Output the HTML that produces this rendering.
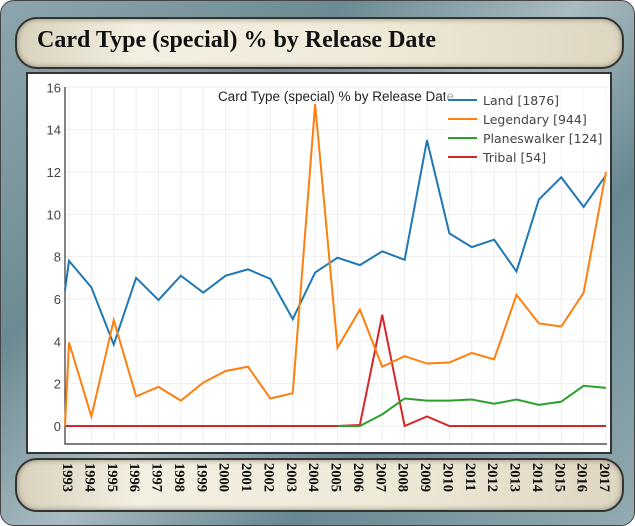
<!DOCTYPE html>
<html><head><meta charset="utf-8"><style>
body{margin:0;width:635px;height:526px;overflow:hidden;background:#fff}
#frame{position:absolute;left:0;top:0;width:633px;height:524px;border:1px solid #444;border-radius:14px;background:linear-gradient(135deg,#8ea6ad,#6c8a93 30%,#a8bbc0 50%,#688791 70%,#93abb1);}
.banner{position:absolute;left:15px;width:605px;height:48px;border:2px solid #333;border-radius:22px;background:linear-gradient(90deg,#d8d2bc,#f3efe2 20%,#efe9d8 60%,#ddd6c0);box-shadow:inset 0 0 6px #8a8470}
#title{top:17px}
#title span{position:absolute;left:20px;top:8px;font:bold 24px "Liberation Serif",serif;color:#111}
#bottom{top:458px;height:50px}
#panel{position:absolute;left:26px;top:72px;width:582px;height:378px;background:#fff;border:2px solid #333}
</style></head><body>
<div id="frame"></div>
<div id="title" class="banner"><span>Card Type (special) % by Release Date</span></div>
<div id="panel"></div>
<div id="bottom" class="banner"></div>
<svg id="chart" width="635" height="526" style="position:absolute;left:0;top:0"></svg>
<script>
const yTicks=[0,2,4,6,8,10,12,14,16];
const years=[1993,1994,1995,1996,1997,1998,1999,2000,2001,2002,2003,2004,2005,2006,2007,2008,2009,2010,2011,2012,2013,2014,2015,2016,2017];
const landX=[1992.82,1993,1994,1995,1996,1997,1998,1999,2000,2001,2002,2003,2004,2005,2006,2007,2008,2009,2010,2011,2012,2013,2014,2015,2016,2017];
const landY=[6.4,7.8,6.55,3.85,7.0,5.95,7.1,6.3,7.1,7.4,6.95,5.05,7.25,7.95,7.6,8.25,7.85,13.5,9.1,8.45,8.8,7.3,10.7,11.75,10.35,11.85];
const legX=landX;
const legY=[0,3.95,0.45,5.0,1.4,1.85,1.2,2.05,2.6,2.8,1.3,1.55,15.2,3.7,5.5,2.8,3.3,2.95,3.0,3.45,3.15,6.2,4.85,4.7,6.3,12.0];
const pwX=[2005,2006,2007,2008,2009,2010,2011,2012,2013,2014,2015,2016,2017];
const pwY=[0,0,0.55,1.3,1.2,1.2,1.25,1.05,1.25,1.0,1.15,1.9,1.8];
const trX=landX;
const trY=[0,0,0,0,0,0,0,0,0,0,0,0,0,0,0.05,5.25,0,0.45,0,0,0,0,0,0,0,0];
const seriesNames=["Land [1876]","Legendary [944]","Planeswalker [124]","Tribal [54]"];
const colors=["#1f77b4","#ff7f0e","#2ca02c","#d62728"];
const NS="http://www.w3.org/2000/svg",svg=document.getElementById('chart');
const x=v=>69+(v-1993)*(606-69)/24, y=v=>426-v*(426-87.3)/16;
function mk(t,a,p){const e=document.createElementNS(NS,t);for(const k in a)e.setAttribute(k,a[k]);(p||svg).appendChild(e);return e;}
const grid=mk('g',{});


years.forEach(v=>mk('line',{x1:x(v),x2:x(v),y1:87,y2:444,stroke:'#eee'},grid));
yTicks.forEach(v=>{mk('line',{x1:65,x2:607,y1:y(v),y2:y(v),stroke:'#eee'},grid);
 const t=mk('text',{x:61,y:y(v)+5,'text-anchor':'end','font-size':13,fill:'#444','font-family':'Liberation Sans, sans-serif'});t.textContent=v;
 
 });
const ax=mk('path',{d:'M65,87V444H607',fill:'none',stroke:'#333','stroke-width':1.2});


const it=mk('text',{x:336,y:101,'text-anchor':'middle','font-size':13.5,fill:'#222','font-family':'Liberation Sans, sans-serif'});it.textContent='Card Type (special) % by Release Date';


const S=[[landX,landY],[legX,legY],[pwX,pwY],[trX,trY]];
const names=['land-line','legendary-line','planeswalker-line','tribal-line'];
[3,2,0,1].forEach(i=>{const [xs,ys]=S[i];
 const p=mk('polyline',{points:xs.map((v,j)=>x(v)+','+y(ys[j])).join(' '),fill:'none',stroke:colors[i],'stroke-width':2});
 
 });
const lg=mk('g',{});


mk('rect',{x:445,y:88,width:161,height:78,fill:'#fff',opacity:0.6},lg);
seriesNames.forEach((n,i)=>{const yy=100+i*19;
 mk('line',{x1:448,x2:477,y1:yy,y2:yy,stroke:colors[i],'stroke-width':2},lg);
 const t=mk('text',{x:483,y:yy+5,'font-size':12.5,fill:'#444','font-family':'DejaVu Sans, sans-serif'},lg);t.textContent=n;
 
 });
years.forEach(v=>{const t=mk('text',{transform:`translate(${x(v)-6},463) rotate(90)`,'font-size':14.5,'font-weight':'bold',fill:'#111','font-family':'Liberation Serif, serif'});t.textContent=v;
 
 });
</script>
</body></html>
